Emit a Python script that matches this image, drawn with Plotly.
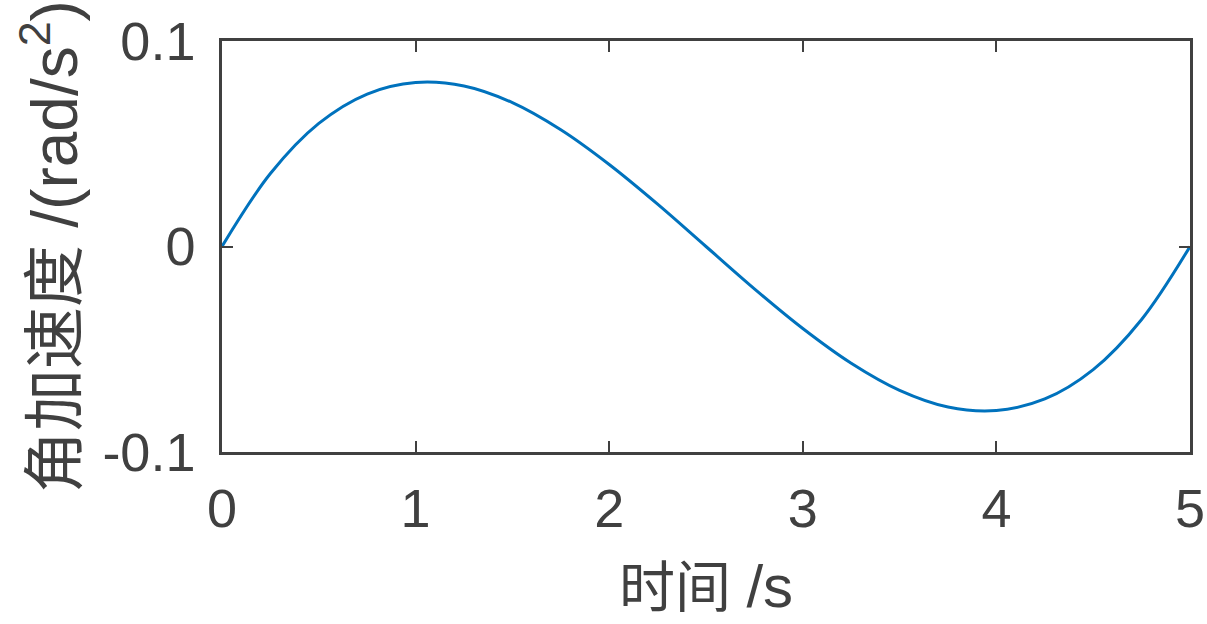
import plotly.graph_objects as go

time_s = [0, 0.25, 0.5, 0.75, 1.0, 1.25, 1.5, 1.75, 2.0, 2.25, 2.5,
          2.75, 3.0, 3.25, 3.5, 3.75, 4.0, 4.25, 4.5, 4.75, 5.0]
ang_acc = [0.0, 0.0355, 0.0599, 0.0742, 0.0798, 0.0781, 0.0700, 0.0568, 0.0399, 0.0206, 0.0,
           -0.0206, -0.0399, -0.0568, -0.0700, -0.0781, -0.0798, -0.0742, -0.0599, -0.0355, 0.0]
x_ticks = [0, 1, 2, 3, 4, 5]
y_ticks = [-0.1, 0, 0.1]
y_tick_labels = ["-0.1", "0", "0.1"]

FONT = "Liberation Sans, Arial, Noto Sans CJK SC"
AX = "#404040"

fig = go.Figure(go.Scatter(x=time_s, y=ang_acc, mode="lines", line_shape="spline",
                           line=dict(color="#0072BD", width=3), showlegend=False))

fig.update_layout(
    width=1207, height=624,
    margin=dict(l=222, r=17, t=41, b=172, autoexpand=False),
    paper_bgcolor="white", plot_bgcolor="white",
    font=dict(family=FONT, size=54, color=AX),
)
fig.update_xaxes(range=[0, 5], tickvals=x_ticks, ticks="inside", ticklen=11, tickwidth=2,
                 tickcolor=AX, showline=True, linecolor=AX, linewidth=2.5, mirror="ticks",
                 showgrid=False, zeroline=False, ticklabelstandoff=7, automargin=False,
                 title=dict(text="时间 <span style='font-size:60px'>/s</span>", standoff=32,
                            font=dict(size=56)))
fig.update_yaxes(range=[-0.1, 0.1], tickvals=y_ticks, ticktext=y_tick_labels, ticks="inside",
                 ticklen=11, tickwidth=2, tickcolor=AX, showline=True, linecolor=AX,
                 linewidth=2.5, mirror="ticks", showgrid=False, zeroline=False,
                 ticklabelstandoff=13, automargin=False,
                 title=dict(text="角加速度 <span style='font-size:64px'>/(rad/s<sup>2</sup>)</span>",
                            standoff=5, font=dict(size=62)))

fig.write_html("out.html", config={"displayModeBar": False},
               post_script="document.body.style.margin='0px';document.body.style.overflow='hidden';")
